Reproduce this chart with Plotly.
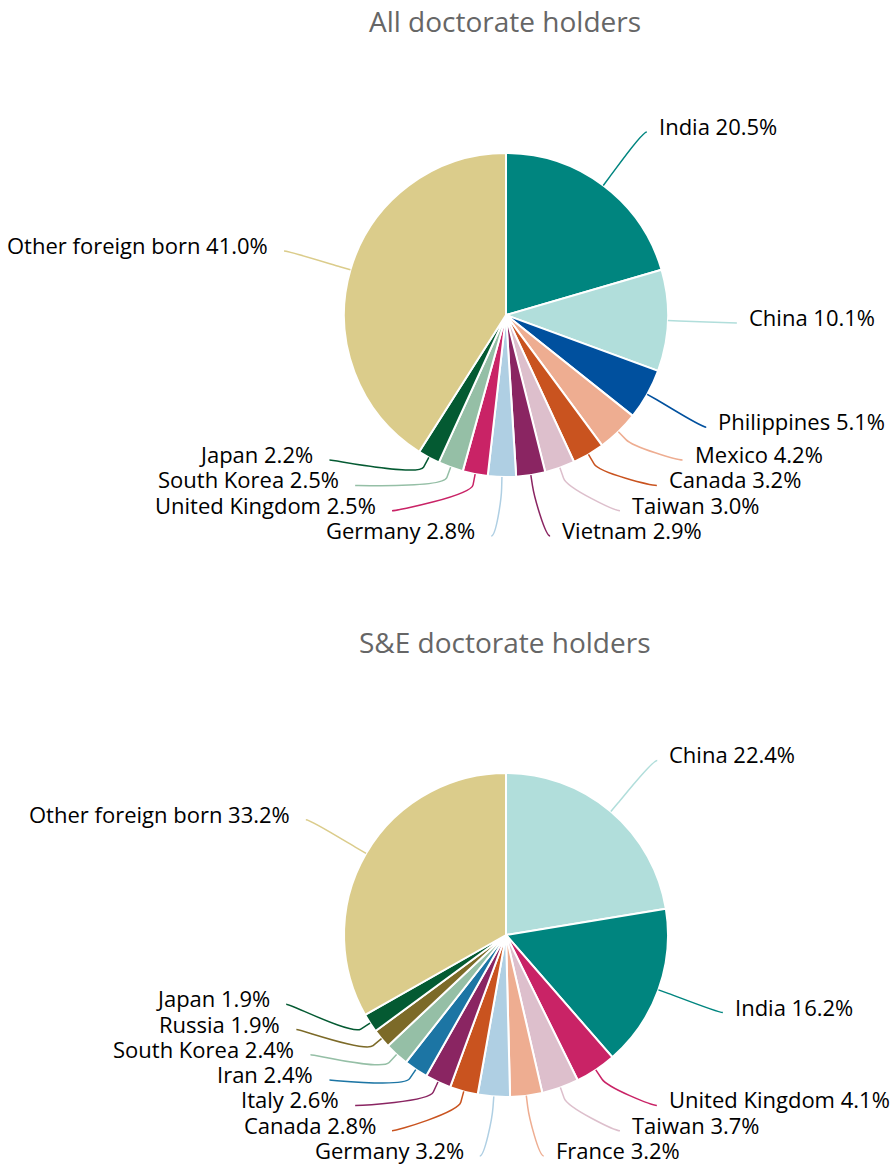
import math
import plotly.graph_objects as go

# ---------------- data ----------------
all_countries = ["India", "China", "Philippines", "Mexico", "Canada", "Taiwan", "Vietnam",
                 "Germany", "United Kingdom", "South Korea", "Japan", "Other foreign born"]
all_shares = [20.5, 10.1, 5.1, 4.2, 3.2, 3.0, 2.9, 2.8, 2.5, 2.5, 2.2, 41.0]

se_countries = ["China", "India", "United Kingdom", "Taiwan", "France", "Germany", "Canada",
                "Italy", "Iran", "South Korea", "Russia", "Japan", "Other foreign born"]
se_shares = [22.4, 16.2, 4.1, 3.7, 3.2, 3.2, 2.8, 2.6, 2.4, 2.4, 1.9, 1.9, 33.2]

titles = ["All doctorate holders", "S&E doctorate holders"]

country_colors = {
    "India": "#00857F",
    "China": "#B1DEDB",
    "Philippines": "#00509E",
    "Mexico": "#EEAD91",
    "Canada": "#C9531F",
    "Taiwan": "#DDBFCC",
    "Vietnam": "#8A2562",
    "Germany": "#AFCFE3",
    "United Kingdom": "#C92366",
    "South Korea": "#95BFA6",
    "Japan": "#045A32",
    "Other foreign born": "#DBCC8B",
    "France": "#EEAD91",
    "Italy": "#8A2562",
    "Iran": "#1C75A4",
    "Russia": "#7C6A28",
}

# ---------------- layout parameters (pixels) ----------------
W, H = 890, 1165
PIE_CX = 506
PIE_CYS = [315, 935]
PIE_R = 162
TITLE_YS = [21, 642]
NAT_R = 229              # radius of natural label positions
ELL_A = 231              # horizontal semi-axis for label placement
ELL_B_UP, ELL_B_DOWN = 231, 225
Y_MAX = 221              # lowest label offset below centre
GAP = 25.3               # min vertical spacing between labels
EDGE_PAD = 9             # extra x for labels pinned at bottom
BREAK = 11               # connector break offset
TEXT_PAD_R, TEXT_PAD_L = 10, 14
TEXT_SHIFT = 6           # text sits slightly above connector end
FONT = "Open Sans, Noto Sans, sans-serif"


def px(x):
    return x / W


def py(y):
    return 1 - y / H


fig = go.Figure()
shapes = []
annotations = []

for names, vals, cy, title, ty in zip([all_countries, se_countries], [all_shares, se_shares],
                                     PIE_CYS, titles, TITLE_YS):
    cx = PIE_CX
    colors = [country_colors[n] for n in names]
    fig.add_trace(go.Pie(
        labels=names, values=vals, sort=False, direction="clockwise", rotation=0,
        marker=dict(colors=colors, line=dict(color="white", width=2)),
        textinfo="none", hoverinfo="label+percent", showlegend=False,
        domain=dict(x=[px(cx - PIE_R), px(cx + PIE_R)], y=[py(cy + PIE_R), py(cy - PIE_R)]),
    ))

    total = sum(vals)
    mids = []
    cum = 0.0
    for v in vals:
        mids.append((cum + v / 2) / total * 2 * math.pi)
        cum += v

    ys = {}
    pinned = set()
    nat_all = {}
    for side in ([i for i, a in enumerate(mids) if a < math.pi],
                 [i for i, a in enumerate(mids) if a >= math.pi]):
        nat = {i: cy - NAT_R * math.cos(mids[i]) for i in side}
        nat_all.update(nat)
        order = sorted(side, key=lambda i: nat[i], reverse=True)
        prev = None
        for i in order:
            y = nat[i]
            if y >= cy + Y_MAX:
                y = cy + Y_MAX
                pinned.add(i)
            if prev is not None and y > prev - GAP:
                y = prev - GAP
                pinned.discard(i)
            ys[i] = y
            prev = y

    for i, (name, v) in enumerate(zip(names, vals)):
        a = mids[i]
        right = a < math.pi
        sgn = 1 if right else -1
        y = ys[i]
        if i in pinned:
            ndy = nat_all[i] - cy
            dx = math.sqrt(max(0.0, NAT_R ** 2 - ndy ** 2)) + EDGE_PAD
        else:
            b = ELL_B_DOWN if y > cy else ELL_B_UP
            dy = (y - cy) / b
            dx = ELL_A * math.sqrt(max(0.0, 1 - dy * dy))
        x = cx + sgn * dx
        s, c = math.sin(a), math.cos(a)
        tx, tyy = cx + PIE_R * s, cy - PIE_R * c
        bx, by = cx + (PIE_R + BREAK) * s, cy - (PIE_R + BREAK) * c
        c2x, c2y = cx + (PIE_R + 2 * BREAK) * s, cy - (PIE_R + 2 * BREAK) * c
        c1x = x - 5 * sgn
        path = (f"M {px(x):.5f},{py(y):.5f} C {px(c1x):.5f},{py(y):.5f} "
                f"{px(c2x):.5f},{py(c2y):.5f} {px(bx):.5f},{py(by):.5f} "
                f"L {px(tx):.5f},{py(tyy):.5f}")
        shapes.append(dict(type="path", xref="paper", yref="paper", path=path,
                           line=dict(color=colors[i], width=1.5), layer="above"))
        annotations.append(dict(
            x=px(x + (TEXT_PAD_R if right else -TEXT_PAD_L)), y=py(y - TEXT_SHIFT),
            xref="paper", yref="paper",
            text=f"{name} {v:.1f}%", showarrow=False,
            xanchor="left" if right else "right", yanchor="middle",
            font=dict(family=FONT, size=22, color="#000000"),
        ))

    annotations.append(dict(
        x=px(505), y=py(ty), xref="paper", yref="paper", text=title, showarrow=False,
        xanchor="center", yanchor="middle",
        font=dict(family=FONT, size=28, color="#666666"),
    ))

fig.update_layout(
    width=W, height=H, autosize=False,
    margin=dict(l=0, r=0, t=0, b=0),
    paper_bgcolor="white", plot_bgcolor="white",
    shapes=shapes, annotations=annotations,
)

fig.write_html(
    "out.html",
    config={"displayModeBar": False},
    post_script="document.body.style.margin='0';document.body.style.overflow='hidden';",
)
